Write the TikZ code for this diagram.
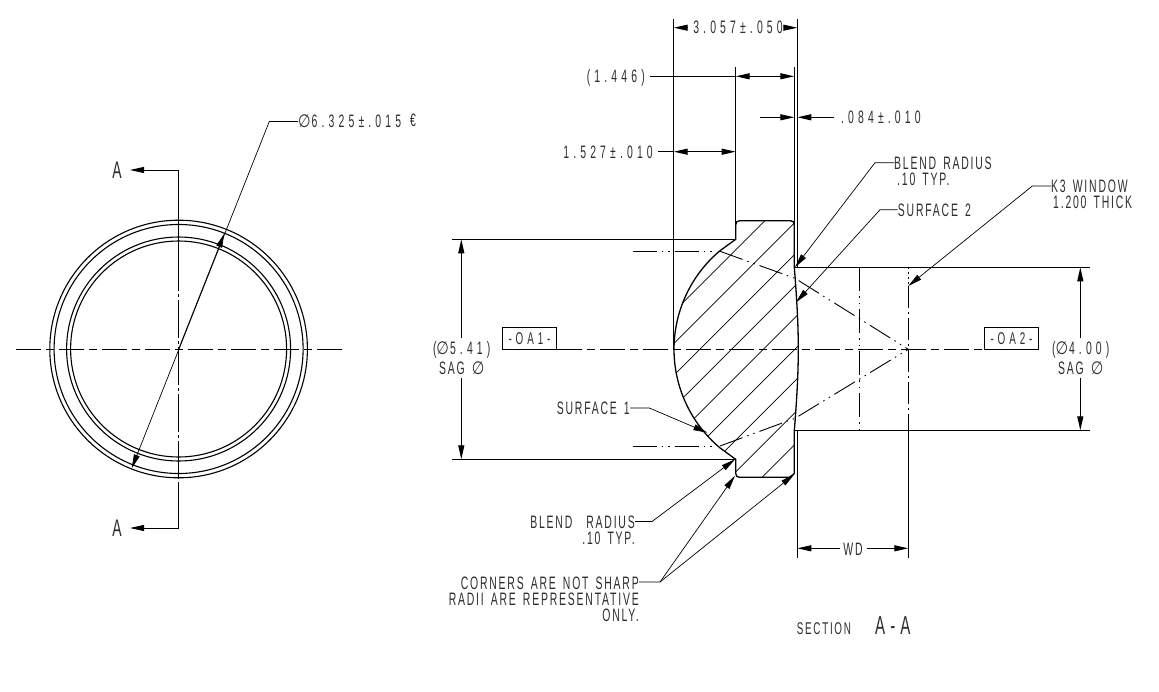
\documentclass[tikz,border=0pt]{standalone}
\usepackage{fontspec}
\usetikzlibrary{arrows.meta}
\newfontfamily\dimfont[FakeStretch=0.58,LetterSpace=10,WordSpace=1.5]{Liberation Sans}
\newfontfamily\numfont[FakeStretch=0.58,LetterSpace=23]{Liberation Sans}
\newfontfamily\symfont[FakeStretch=0.8]{DejaVu Sans}
\definecolor{txt}{RGB}{45, 45, 45}
\newcommand{\dia}{\smash{\symfont\fontsize{18}{18}\selectfont ∅}\hspace{1pt}}
\tikzset{
    main/.style={line width=1.1pt},
    thinl/.style={line width=0.7pt},
    tip/.style={-{Stealth[length=14pt,width=6pt,inset=0pt]}},
    cline/.style={line width=0.9pt, dash pattern=on 25pt off 5pt on 8pt off 5pt},
    phant/.style={line width=0.9pt, dash pattern=on 24pt off 5pt on 1.5pt off 5pt on 1.5pt off 5pt},
    dim/.style={main, {Stealth[length=14pt,width=6pt,inset=0pt]}-{Stealth[length=14pt,width=6pt,inset=0pt]}},
    lead/.style={thinl, tip},
    lbl/.style={inner sep=0pt, text=txt, font=\dimfont\fontsize{18}{18}\selectfont},
    num/.style={inner sep=0pt, text=txt, font=\numfont\fontsize{18}{18}\selectfont},
    big/.style={inner sep=0pt, text=txt, font=\dimfont\fontsize{24}{24}\selectfont},
    datum/.style={draw, main, minimum width=54.4pt, minimum height=22pt, inner sep=0pt, text=txt, font=\numfont\fontsize{17}{17}\selectfont}
}
\newcommand{\lensoutline}{(735.7,239.3) -- (735.7,225) .. controls (735.7,222) and (737,220.7) .. (739.7,220.7)
    -- (790.3,220.7) .. controls (793,220.7) and (794.3,222) .. (794.3,224.7)
    -- (794.3,267.3) .. controls (796.5,295) and (798.3,322) .. (798.3,349.3)
    .. controls (798.3,376) and (796.5,403) .. (794.3,430.7) -- (794.3,473.5) -- (789.5,477.3)
    -- (739.7,477.3) .. controls (737,477.3) and (735.7,476) .. (735.7,473.3) -- (735.7,459.3)
    -- (720,447.9) .. controls (690.9,423.5) and (674,387.3) .. (674,349.3)
    .. controls (674,311.3) and (690.9,275.1) .. (720,250.7) -- cycle}
\begin{document}
\begin{tikzpicture}[x=1pt, y=-1pt]
    \useasboundingbox (0,0) rectangle (1159,691);
    % front view
    \coordinate (cen) at (178.6,349);
    \foreach \r in {128.8,124.5,112,108} {
        \draw[main] (cen) circle[radius=\r pt];
    }
    \draw[cline] (16,349) -- (342,349);
    \draw[line width=0.9pt, dash pattern=on 38pt off 3pt on 3pt off 3pt] (178.3,253) -- (178.3,482);
    \coordinate (atop) at (130,170);
    \coordinate (abot) at (130,528);
    \draw[lead, line width=0.9pt] (178.3,253) -- (178.3,170) -- (atop);
    \draw[lead, line width=0.9pt] (178.3,482) -- (178.3,528) -- (abot);
    \node[big, anchor=base] (aa) at (117,178.5) {A};
    \node[big, anchor=base] (ab) at (117,536.5) {A};
    \node[num, anchor=base west] (odia) at (298,127) {\dia 6.325±.015};
    \node[lbl, anchor=base west] (ce) at (410,126) {€};
    \coordinate (oc) at (269.3,121.5);
    \coordinate (ou) at (224.3,233.6);
    \coordinate (ol) at (131.7,468.3);
    \draw[lead] (odia.west |- oc) -- (oc) -- (ol);
    \draw[lead] (cen) -- (ou);

    % section
    \begin{scope}
        \clip \lensoutline;
        \foreach \s in {0,...,8} {
            \draw[thinl] (600,385.7+31.7*\s) -- (900,85.7+31.7*\s);
        }
    \end{scope}
    \draw[main, line width=1.3pt] \lensoutline;

    % extension lines
    \draw[main] (673.7,19) -- (673.7,349);
    \draw[main] (797.3,19) -- (797.3,267.3);
    \draw[main] (797.3,430.7) -- (797.3,557.7);
    \draw[main] (908.3,430.7) -- (908.3,557.7);
    \draw[main] (735.7,67) -- (735.7,225);
    \draw[main] (794.3,67) -- (794.3,225);
    \draw[main] (452,239.3) -- (735.7,239.3);
    \draw[main] (452,459.3) -- (735.7,459.3);
    \draw[main] (794.3,267.3) -- (1090,267.3);
    \draw[main] (794.3,430.3) -- (1090,430.3);

    % axis and rays
    \node[datum] (oa1) at (529.5,338.3) {-OA1-};
    \node[datum] (oa2) at (1011.5,338.3) {-OA2-};
    \coordinate (apex) at (908.3,349.3);
    \draw[cline] (oa1.south east) -- (oa2.south west);
    \draw[phant] (632.7,251.3) -- (714,251.3);
    \draw[phant] (632.7,446) -- (714,446);
    \draw[phant] (720,251.3) -- (795,278.3) -- (apex);
    \draw[phant] (720,446) -- (795,418.3) -- (apex);
    \draw[phant] (859.3,267.3) -- (859.3,430.3);
    \draw[line width=0.9pt, dash pattern=on 2pt off 3pt] (908.3,267.3) -- (908.3,286);
    \draw[phant, dash pattern=on 22pt off 4pt on 2pt off 4pt] (908.3,286) -- (908.3,430.3);

    % top dimensions
    \node[num] (d3057) at (738,27.7) {3.057±.050};
    \draw[main, tip] (687,27.7) -- (673.7,27.7);
    \draw[main, tip] (784,27.7) -- (797.3,27.7);
    \node[num, anchor=base east] (d1446) at (645,82.5) {(1.446)};
    \draw[main] (650,76.3) -- (735.7,76.3);
    \draw[dim] (735.7,76.3) -- (794.3,76.3);
    \node[num, anchor=base west] (d084) at (841,123.5) {.084±.010};
    \draw[main, tip] (760,117.3) -- (794.3,117.3);
    \draw[main, tip] (834,117.3) -- (797.3,117.3);
    \node[num, anchor=base east] (d1527) at (653,158) {1.527±.010};
    \draw[main] (658.3,151.7) -- (673.7,151.7);
    \draw[dim] (673.7,151.7) -- (735.7,151.7);

    % side dimensions
    \node[num, anchor=base] (d541) at (461.7,354.5) {(\dia 5.41)};
    \node[lbl, anchor=base] (s541) at (461.7,374) {SAG \dia};
    \draw[main, tip] (461.3,338) -- (461.3,239.3);
    \draw[main, tip] (461.3,377.5) -- (461.3,459.3);
    \node[num, anchor=base] (d400) at (1080.7,354.5) {(\dia 4.00)};
    \node[lbl, anchor=base] (s400) at (1080.7,374) {SAG \dia};
    \draw[main, tip] (1080.3,338) -- (1080.3,267.3);
    \draw[main, tip] (1080.3,377.5) -- (1080.3,430.3);
    \node[lbl] (wd) at (853,549) {WD};
    \draw[main, tip] (840,548.3) -- (797.3,548.3);
    \draw[main, tip] (866.7,548.3) -- (908.3,548.3);

    % notes
    \node[lbl, anchor=base west] (nb2) at (894,169) {BLEND RADIUS};
    \node[lbl, anchor=base west] (nb2b) at (897,185.5) {.10 TYP.};
    \draw[lead] (nb2.west |- 0,162.7) -- (875,162.7) -- (795,267.3);
    \node[lbl, anchor=base west] (ns2) at (897.7,216.5) {SURFACE 2};
    \draw[lead] (ns2.west |- 0,209.7) -- (880,209.7) -- (796,302.3);
    \node[lbl, anchor=base west] (nk3) at (1051,192.5) {K3 WINDOW};
    \node[lbl, anchor=base west] (nk3b) at (1053,208.5) {1.200 THICK};
    \draw[lead] (nk3.west |- 0,186) -- (1032.3,186) -- (908.3,286);
    \node[lbl, anchor=base east] (ns1) at (630,414.8) {SURFACE 1};
    \draw[lead] (ns1.east |- 0,408) -- (649.3,408) -- (707.3,432.7);
    \node[lbl, anchor=base east] (nb1) at (635,528.5) {BLEND\hspace{7pt} RADIUS};
    \node[lbl, anchor=base east] (nb1b) at (635,544.5) {.10 TYP.};
    \draw[lead] (nb1.east |- 0,521.5) -- (652,521.5) -- (735,459.3);
    \node[lbl, anchor=base east] (nc) at (639,589.5) {CORNERS ARE NOT SHARP};
    \node[lbl, anchor=base east] (ncb) at (639,605.5) {RADII ARE REPRESENTATIVE};
    \node[lbl, anchor=base east] (ncc) at (639,621.5) {ONLY.};
    \coordinate (ncj) at (660,582);
    \draw[lead] (nc.east |- ncj) -- (ncj) -- (735,475.7);
    \draw[lead] (ncj) -- (794.3,474.3);
    \node[lbl, anchor=base west, font=\dimfont\fontsize{17}{17}\selectfont] (sec) at (796.7,634) {SECTION};
    \node[big, anchor=base west, font=\dimfont\fontsize{26}{26}\selectfont] (secaa) at (875,634.5) {A\hspace{5pt}-\hspace{5pt}A};
\end{tikzpicture}
\end{document}
